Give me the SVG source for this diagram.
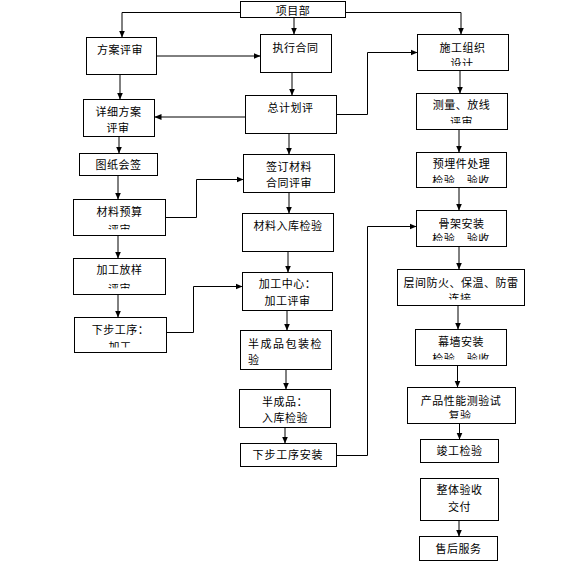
<svg xmlns="http://www.w3.org/2000/svg" width="572" height="574" viewBox="0 0 572 574">
<style>
.b{fill:#fff;stroke:#000;stroke-width:1}
text{font-family:"Liberation Sans","Noto Sans CJK SC",sans-serif;font-size:11px;fill:#000;text-anchor:middle;letter-spacing:0.5px}
.c{fill:none;stroke:#000;stroke-width:1}
</style>
<defs>
<marker id="a" markerWidth="7" markerHeight="7" refX="6.5" refY="3.5" orient="auto" markerUnits="userSpaceOnUse"><path d="M0,0.5 L7,3.5 L0,6.5 z" fill="#000"/></marker>
<clipPath id="k6"><rect x="417" y="34" width="92" height="32"/></clipPath>
<clipPath id="k7"><rect x="416" y="93" width="92" height="30.5"/></clipPath>
<clipPath id="k9"><rect x="73" y="199" width="93" height="30.5"/></clipPath>
<clipPath id="k12"><rect x="416" y="152" width="91" height="31"/></clipPath>
<clipPath id="k13"><rect x="416" y="210" width="91" height="31"/></clipPath>
<clipPath id="k14"><rect x="73" y="258" width="93" height="30.5"/></clipPath>
<clipPath id="k15"><rect x="74" y="317" width="93" height="30.5"/></clipPath>
<clipPath id="k17"><rect x="397" y="269" width="128" height="30.5"/></clipPath>
<clipPath id="k19"><rect x="415" y="329" width="92" height="30.5"/></clipPath>
<clipPath id="k21"><rect x="407" y="387" width="109" height="31.5"/></clipPath>
</defs>
<g id="connectors">
<path class="c" d="M240,12.5 H122 V37" marker-end="url(#a)"/>
<path class="c" d="M294,17 V34" marker-end="url(#a)"/>
<path class="c" d="M345,12.5 H461 V34" marker-end="url(#a)"/>
<path class="c" d="M157,56 H260" marker-end="url(#a)"/>
<path class="c" d="M120,74 V99" marker-end="url(#a)"/>
<path class="c" d="M292,73 V95" marker-end="url(#a)"/>
<path class="c" d="M245,117 H155" marker-end="url(#a)"/>
<path class="c" d="M337,114.5 H367.5 V52.5 H417" marker-end="url(#a)"/>
<path class="c" d="M119,136 V153" marker-end="url(#a)"/>
<path class="c" d="M118,175 V199" marker-end="url(#a)"/>
<path class="c" d="M166,217.5 H196.5 V179.5 H243" marker-end="url(#a)"/>
<path class="c" d="M289,133 V154" marker-end="url(#a)"/>
<path class="c" d="M289,192 V213" marker-end="url(#a)"/>
<path class="c" d="M288,251 V272" marker-end="url(#a)"/>
<path class="c" d="M118,235 V258" marker-end="url(#a)"/>
<path class="c" d="M118,294 V317" marker-end="url(#a)"/>
<path class="c" d="M167,332.5 H193.5 V286.5 H242" marker-end="url(#a)"/>
<path class="c" d="M287,311 V330" marker-end="url(#a)"/>
<path class="c" d="M286,369 V389" marker-end="url(#a)"/>
<path class="c" d="M285,427 V443" marker-end="url(#a)"/>
<path class="c" d="M337,455.5 H367.5 V226.5 H416" marker-end="url(#a)"/>
<path class="c" d="M460,70 V93" marker-end="url(#a)"/>
<path class="c" d="M459,129 V152" marker-end="url(#a)"/>
<path class="c" d="M459,187 V210" marker-end="url(#a)"/>
<path class="c" d="M459,247 V269" marker-end="url(#a)"/>
<path class="c" d="M458,305 V329" marker-end="url(#a)"/>
<path class="c" d="M457.5,365 V387" marker-end="url(#a)"/>
<path class="c" d="M459.5,423 V439" marker-end="url(#a)"/>
<path class="c" d="M459,520 V536" marker-end="url(#a)"/>
</g>
<g id="n1"><rect class="b" x="240.5" y="1.5" width="105" height="16"/><text x="293" y="14.5">项目部</text></g>
<g id="n2"><rect class="b" x="86.5" y="37.5" width="70" height="37"/><text x="120" y="54">方案评审</text></g>
<g id="n3"><rect class="b" x="260.5" y="34.5" width="71" height="38"/><text x="295.5" y="51.5">执行合同</text></g>
<g id="n4"><rect class="b" x="83.5" y="99.5" width="71" height="37"/><text x="118.5" y="115.8">详细方案</text><text x="118" y="131.5">评审</text></g>
<g id="n5"><rect class="b" x="245.5" y="95.5" width="91" height="38"/><text x="290.5" y="111.5">总计划评</text></g>
<g id="n6"><rect class="b" x="417.5" y="34.5" width="91" height="36"/><text x="462.5" y="51.5">施工组织</text><text x="462" y="68.3" clip-path="url(#k6)">设计</text></g>
<g id="n7"><rect class="b" x="416.5" y="93.5" width="91" height="36"/><text x="461.5" y="109">测量、放线</text><text x="461.5" y="126" clip-path="url(#k7)">评审</text></g>
<g id="n8"><rect class="b" x="79.5" y="153.5" width="78" height="22"/><text x="118.5" y="169">图纸会签</text></g>
<g id="n9"><rect class="b" x="73.5" y="199.5" width="92" height="36"/><text x="119.5" y="215.7">材料预算</text><text x="119.5" y="233.6" clip-path="url(#k9)">评审</text></g>
<g id="n10"><rect class="b" x="243.5" y="154.5" width="91" height="38"/><text x="289" y="170.7">签订材料</text><text x="289" y="187.3">合同评审</text></g>
<g id="n11"><rect class="b" x="242.5" y="213.5" width="91" height="38"/><text x="288" y="229.7">材料入库检验</text></g>
<g id="n12"><rect class="b" x="416.5" y="152.5" width="90" height="35"/><text x="461.5" y="168.3">预埋件处理</text><text x="461" y="185.3" clip-path="url(#k12)">检验　验收</text></g>
<g id="n13"><rect class="b" x="416.5" y="210.5" width="90" height="36"/><text x="461.5" y="228">骨架安装</text><text x="461" y="243.3" clip-path="url(#k13)">检验　验收</text></g>
<g id="n14"><rect class="b" x="73.5" y="258.5" width="92" height="36"/><text x="119.5" y="274">加工放样</text><text x="119.5" y="292.6" clip-path="url(#k14)">评审</text></g>
<g id="n15"><rect class="b" x="74.5" y="317.5" width="92" height="35"/><text x="120.5" y="334">下步工序：</text><text x="120" y="351" clip-path="url(#k15)">加工</text></g>
<g id="n16"><rect class="b" x="242.5" y="272.5" width="90" height="38"/><text x="287.5" y="288.3">加工中心：</text><text x="287.5" y="305">加工评审</text></g>
<g id="n17"><rect class="b" x="397.5" y="269.5" width="127" height="36"/><text x="461" y="287.3">层间防火、保温、防雷</text><text x="460" y="302.6" clip-path="url(#k17)">连接</text></g>
<g id="n18"><rect class="b" x="240.5" y="330.5" width="91" height="39"/><text x="248" y="348.3" style="text-anchor:start;letter-spacing:1.5px">半成品包装检</text><text x="248" y="364" style="text-anchor:start">验</text></g>
<g id="n19"><rect class="b" x="415.5" y="329.5" width="91" height="36"/><text x="461" y="345.7">幕墙安装</text><text x="461" y="362.6" clip-path="url(#k19)">检验　验收</text></g>
<g id="n20"><rect class="b" x="239.5" y="389.5" width="91" height="38"/><text x="285" y="405.7">半成品：</text><text x="285" y="422.3">入库检验</text></g>
<g id="n21"><rect class="b" x="407.5" y="387.5" width="108" height="36"/><text x="461" y="404.7">产品性能测验试</text><text x="460" y="420" clip-path="url(#k21)">复验</text></g>
<g id="n22"><rect class="b" x="240.5" y="443.5" width="96" height="23"/><text x="288" y="459" style="letter-spacing:0.8px">下步工序安装</text></g>
<g id="n23"><rect class="b" x="420.5" y="439.5" width="78" height="23"/><text x="459.5" y="455">竣工检验</text></g>
<g id="n24"><rect class="b" x="420.5" y="478.5" width="78" height="42"/><text x="459.5" y="494">整体验收</text><text x="459.5" y="510.7">交付</text></g>
<g id="n25"><rect class="b" x="419.5" y="536.5" width="78" height="24"/><text x="458.5" y="553">售后服务</text></g>
</svg>
